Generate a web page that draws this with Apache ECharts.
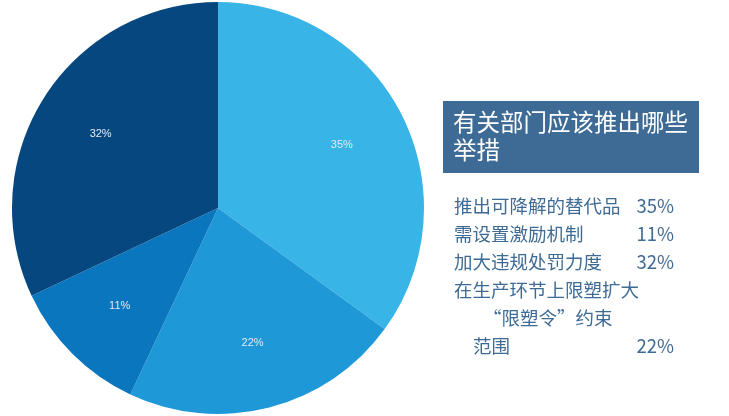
<!DOCTYPE html>
<html>
<head>
<meta charset="utf-8">
<script src="https://cdn.jsdelivr.net/npm/echarts@6/dist/echarts.min.js"></script>
<style>
html,body{margin:0;padding:0;background:#fff;}
#chart{width:729px;height:416px;}
</style>
</head>
<body>
<div id="chart"></div>
<script>
// Data
const sliceNames = ['推出可降解的替代品', '在生产环节上限塑扩大“限塑令”约束范围', '需设置激励机制', '加大违规处罚力度'];
const sliceValues = [35, 22, 11, 32];
const sliceColors = ['#38b4e6', '#1e98d7', '#0a76be', '#074780'];
const titleLines = ['有关部门应该推出哪些', '举措'];
const listLabels = ['推出可降解的替代品', '需设置激励机制', '加大违规处罚力度', '在生产环节上限塑扩大', '“限塑令”约束', '范围'];
const listValues = ['35%', '11%', '32%', '', '', '22%'];

const FONT = '"Noto Sans CJK SC", "Noto Sans", sans-serif';
const textColor = '#3e6b95';
const chart = echarts.init(document.getElementById('chart'));

const pieData = sliceNames.map((n, i) => ({ name: n, value: sliceValues[i], itemStyle: { color: sliceColors[i] } }));

const graphics = [];
graphics.push({
  type: 'rect', left: 443, top: 101,
  shape: { width: 256, height: 72 },
  style: { fill: '#3d6b96' }
});
titleLines.forEach((t, i) => {
  graphics.push({
    type: 'text', left: 453, top: 110 + i * 28,
    style: { text: t, fill: '#ffffff', font: '23.5px ' + FONT }
  });
});
const listX = [454, 454, 454, 454, 483, 473];
listLabels.forEach((t, i) => {
  graphics.push({
    type: 'text', x: listX[i], y: 206 + i * 28,
    style: { text: t, fill: textColor, font: '18.5px ' + FONT, textVerticalAlign: 'middle', verticalAlign: 'middle' }
  });
  if (listValues[i]) {
    graphics.push({
      type: 'text', x: 674, y: 206 + i * 28,
      style: { text: listValues[i], fill: textColor, font: '18.5px ' + FONT, align: 'right', textAlign: 'right', verticalAlign: 'middle', textVerticalAlign: 'middle' }
    });
  }
});

chart.setOption({
  animation: false,
  series: [
    {
      type: 'pie',
      center: [218, 208],
      radius: [0, 206],
      startAngle: 90,
      data: pieData,
      label: { show: false },
      labelLine: { show: false },
      silent: true
    },
    {
      type: 'pie',
      center: [218, 208],
      radius: [66, 206],
      startAngle: 90,
      data: sliceNames.map((n, i) => ({ name: n, value: sliceValues[i] })),
      itemStyle: { color: 'rgba(0,0,0,0)' },
      label: {
        show: true, position: 'inside',
        formatter: p => p.value + '%',
        color: '#e2eaf2', fontSize: 11, fontFamily: 'Arial, "Liberation Sans", sans-serif'
      },
      labelLine: { show: false },
      silent: true
    }
  ],
  graphic: graphics
});
</script>
</body>
</html>
